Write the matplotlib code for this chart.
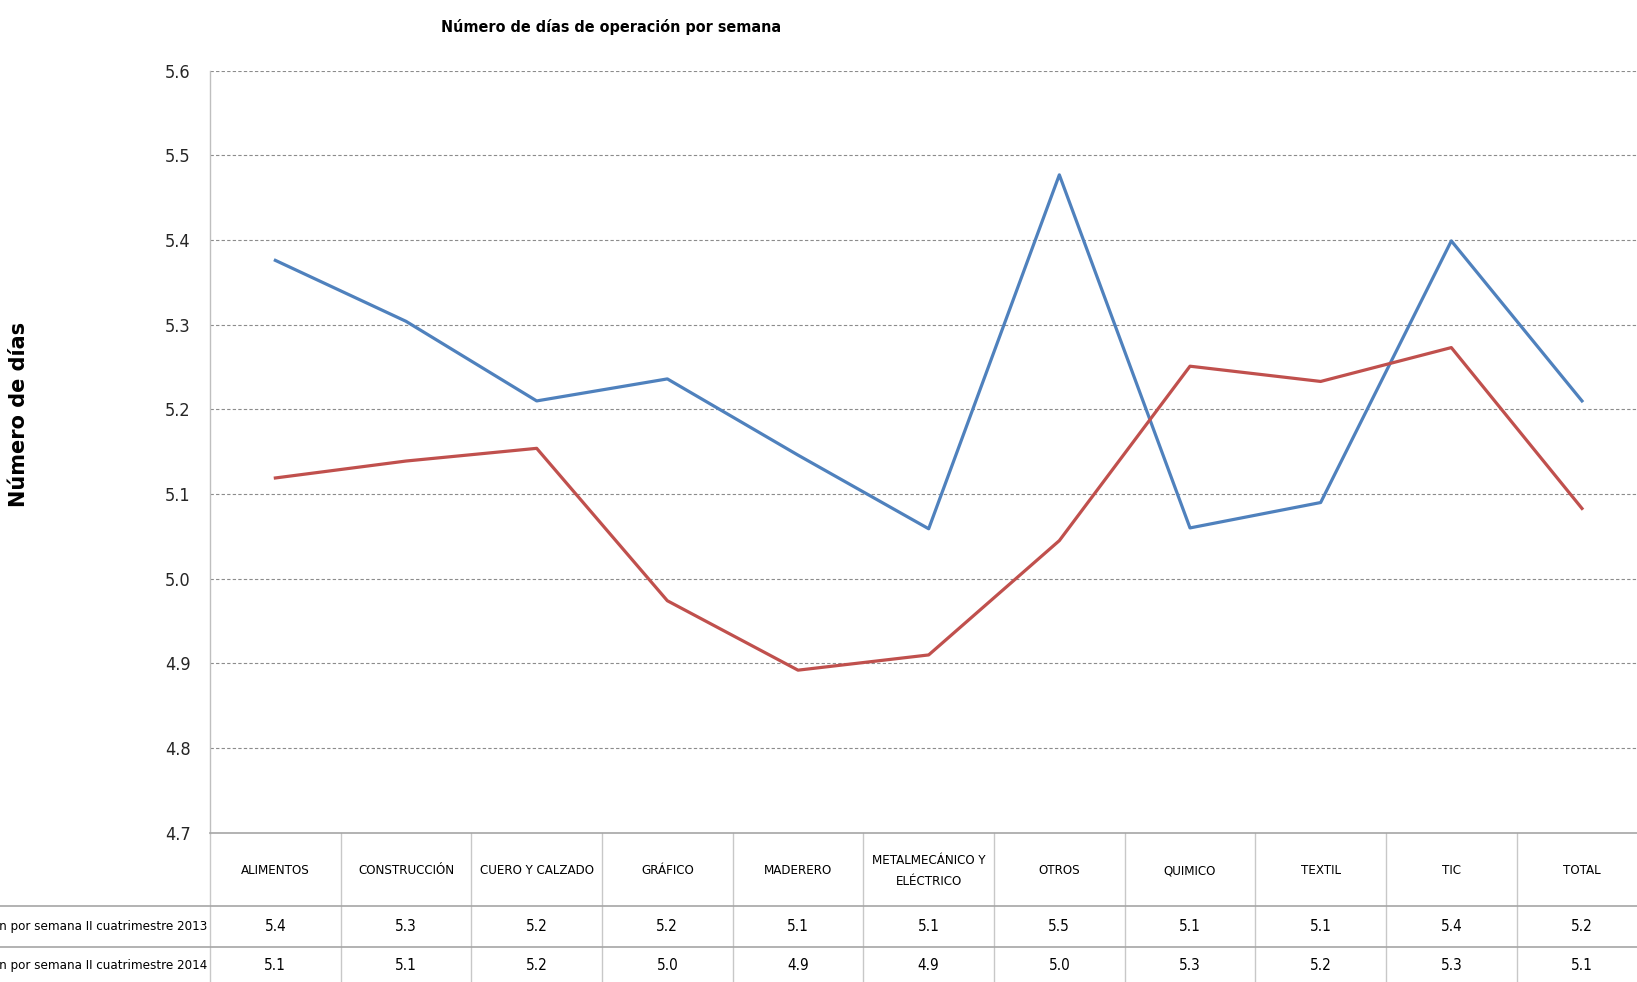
import matplotlib
matplotlib.use("Agg")
import matplotlib.pyplot as plt
import matplotlib.transforms as mtransforms
from matplotlib.lines import Line2D
from matplotlib import font_manager

# data
categories = ["ALIMENTOS", "CONSTRUCCIÓN", "CUERO Y CALZADO", "GRÁFICO", "MADERERO",
              "METALMECÁNICO Y\nELÉCTRICO", "OTROS", "QUIMICO", "TEXTIL", "TIC", "TOTAL"]
dias_2013 = [5.376, 5.304, 5.210, 5.236, 5.146, 5.059, 5.477, 5.060, 5.090, 5.399, 5.210]
dias_2014 = [5.119, 5.139, 5.154, 4.974, 4.892, 4.910, 5.045, 5.251, 5.233, 5.273, 5.083]
row_labels = ["Número de días de operación por semana II cuatrimestre 2013",
              "Número de días de operación por semana II cuatrimestre 2014"]
y_ticks = [4.7, 4.8, 4.9, 5.0, 5.1, 5.2, 5.3, 5.4, 5.5, 5.6]

# pick a condensed face if the system has one
condensed = [f.name for f in font_manager.fontManager.ttflist
             if "ondensed" in f.fname or "arrow" in f.fname]
NARROW = (condensed[:1] or []) + ["DejaVu Sans"]
STRETCH = "condensed"
BLUE = "#4f81bd"
RED = "#c0504d"

fig = plt.figure(figsize=(16.37, 9.82), dpi=100)
ax = fig.add_axes([0.1283, 0.152, 0.878, 0.776])

x = list(range(len(categories)))
ax.plot(x, dias_2013, color=BLUE, lw=2.3, solid_joinstyle="round")
ax.plot(x, dias_2014, color=RED, lw=2.3, solid_joinstyle="round")

ax.set_xlim(-0.5, len(categories) - 0.5)
ax.set_ylim(4.7, 5.6)
ax.set_yticks(y_ticks)
ax.set_yticklabels([f"{v:.1f}" for v in y_ticks], family=NARROW, stretch=STRETCH,
                   fontsize=13, color="#262626")
ax.set_xticks([])
ax.tick_params(axis="y", length=0, pad=14)
for t in y_ticks[1:]:
    ax.axhline(t, color="#8c8c8c", lw=0.8, ls=(0, (3, 2)), zorder=0)

for side in ["top", "right"]:
    ax.spines[side].set_visible(False)
ax.spines["left"].set_color("#bfbfbf")
ax.spines["bottom"].set_color("#a6a6a6")
ax.spines["left"].set_linewidth(1.0)
ax.spines["bottom"].set_linewidth(1.2)

# data table below the plot
header_bot = -0.0958
row1_bot = -0.1496
table_bot = -0.25
trans_x = mtransforms.blended_transform_factory(ax.transData, ax.transAxes)
for k in range(len(categories) + 1):
    ax.add_line(Line2D([k - 0.5, k - 0.5], [0, table_bot], transform=trans_x,
                       color="#c8c8c8", lw=1.0, clip_on=False))
trans_fx = mtransforms.blended_transform_factory(fig.transFigure, ax.transAxes)
for yy in [header_bot, row1_bot]:
    ax.add_line(Line2D([0, 1], [yy, yy], transform=trans_fx,
                       color="#a6a6a6", lw=1.2, clip_on=False))

head_font = dict(family=NARROW, stretch=STRETCH, fontsize=9.5)
num_font = dict(family=NARROW, stretch=STRETCH, fontsize=11)
for i, cat in enumerate(categories):
    ax.text(i, -0.05, cat, transform=trans_x, ha="center", va="center",
            linespacing=1.75, **head_font)
    ax.text(i, -0.1234, f"{dias_2013[i]:.1f}", transform=trans_x, ha="center",
            va="center", **num_font)
    ax.text(i, -0.1745, f"{dias_2014[i]:.1f}", transform=trans_x, ha="center",
            va="center", **num_font)

for yy, lab in zip([-0.1234, -0.1745], row_labels):
    ax.text(0.1264, yy, lab, transform=trans_fx, ha="right", va="center", **head_font)

fig.text(0.373, 0.973, "Número de días de operación por semana", ha="center", va="center",
         family=NARROW, stretch=STRETCH, fontsize=11.5, fontweight="bold")
fig.text(0.0115, 0.578, "Número de días", rotation=90, ha="center", va="center",
         family="DejaVu Sans", fontsize=15, fontweight="bold")

fig.savefig("out.png", dpi=100)
